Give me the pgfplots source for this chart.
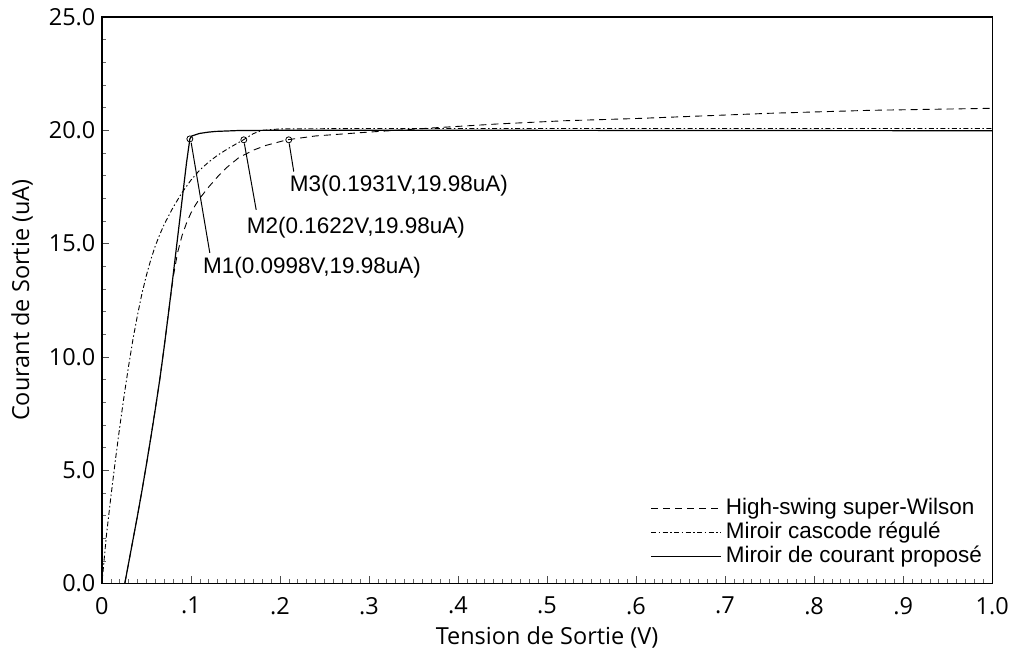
\documentclass[border=0pt]{standalone}
\usepackage{fontspec}
\setmainfont{Open Sans}
\newfontfamily\arial{Liberation Sans}
\usepackage{pgfplots}
\pgfplotsset{compat=1.18}

\begin{document}
\begin{tikzpicture}
\begin{axis}[
 scale only axis,width=891pt,height=567pt,
 xmin=0,xmax=1,ymin=0,ymax=25,
 xtick={0,0.1,0.2,0.3,0.4,0.5,0.6,0.7,0.8,0.9,1.0},
 xticklabels={0,.1,.2,.3,.4,.5,.6,.7,.8,.9,1.0},
 ytick={0,5,10,15,20,25},
 yticklabels={0.0,5.0,10.0,15.0,20.0,25.0},
 minor x tick num=9,minor y tick num=4,
 tick align=inside,xtick pos=bottom,ytick pos=left,
 major tick length=7pt,minor tick length=4pt,
 major tick style={line width=0.7pt,black!70},
 minor tick style={line width=0.6pt,black!60},
 axis line style={line width=1.2pt},
 tick label style={font=\fontsize{23.5}{23.5}\selectfont},
 xticklabel style={yshift=-10pt},
 yticklabel style={xshift=-3pt},
 xlabel={Tension de Sortie (V)},ylabel={Courant de Sortie (uA)},
 label style={font=\fontsize{23.5}{23.5}\selectfont},
 xlabel style={at={([yshift=-54pt]rel axis cs:0.5,0)},anchor=center},
 ylabel style={at={([xshift=-80pt]rel axis cs:0,0.5)},anchor=center},
 legend style={draw=none,fill=none,at={(rel axis cs:1,0)},anchor=south east,
   xshift=-9pt,yshift=15pt,inner sep=0pt,column sep=3pt,
   font=\arial\fontsize{22.5}{22.5}\selectfont,
   nodes={text height=17pt,text depth=5pt,inner sep=1pt}},
 legend cell align=left,
 legend image code/.code={\draw[#1] (0pt,0pt) -- (70pt,0pt);},
]
% High-swing super-Wilson
\addplot[black,line width=0.9pt,dash pattern=on 7pt off 5pt] coordinates {
 (0.0257,0) (0.03,0.9) (0.035,1.95) (0.04,3.0) (0.045,4.1) (0.05,5.25)
 (0.055,6.45) (0.06,7.7) (0.065,9.0) (0.07,10.45) (0.075,12.0) (0.08,13.5)
 (0.085,14.6) (0.09,15.35) (0.095,15.9) (0.1,16.35) (0.105,16.7) (0.11,17.0)
 (0.12,17.5) (0.13,17.95) (0.14,18.35) (0.154,18.8) (0.17,19.12) (0.184,19.33)
 (0.208,19.58) (0.24,19.75) (0.296,19.91) (0.37,20.1) (0.445,20.28) (0.519,20.42)
 (0.601,20.52) (0.75,20.75) (0.862,20.88) (1.0,20.97)};
\addlegendentry{High-swing super-Wilson}
% Miroir cascode regule
\addplot[black,line width=0.9pt,dash pattern=on 5pt off 2.5pt on 1.5pt off 2.5pt] coordinates {
 (0,0) (0.005,2.1) (0.01,3.8) (0.015,5.4) (0.02,6.9) (0.025,8.3) (0.03,9.6)
 (0.035,10.8) (0.04,11.85) (0.045,12.8) (0.05,13.6) (0.055,14.3) (0.06,14.9)
 (0.065,15.4) (0.07,15.85) (0.08,16.6) (0.09,17.25) (0.1,17.8) (0.11,18.25)
 (0.12,18.6) (0.13,18.9) (0.14,19.15) (0.15,19.38) (0.159,19.58) (0.17,19.85)
 (0.18,20.0) (0.2,20.06) (0.3,20.08) (0.6,20.08) (1.0,20.08)};
\addlegendentry{Miroir cascode régulé}
% Miroir de courant propose
\addplot[black,line width=1.2pt] coordinates {
 (0.0257,0) (0.03,0.9) (0.035,1.95) (0.04,3.0) (0.045,4.1) (0.05,5.25)
 (0.055,6.45) (0.06,7.7) (0.065,9.0) (0.07,10.45) (0.075,12.0) (0.08,13.6)
 (0.085,15.25) (0.09,16.9) (0.095,18.55) (0.0988,19.62) (0.101,19.75) (0.1095,19.86)
 (0.12,19.92) (0.128,19.95) (0.154,19.99) (0.2,20.0) (0.4,20.0) (0.7,19.99) (1.0,19.98)};
\addlegendentry{Miroir de courant proposé}
% markers
\addplot[forget plot,only marks,mark=o,mark size=3pt,mark options={line width=0.8pt}] coordinates {
 (0.0988,19.62) (0.1594,19.58) (0.2099,19.58)};
\addplot[forget plot,black,line width=1pt] coordinates {(0.1003,19.45) (0.1212,14.59)};
\addplot[forget plot,black,line width=1pt] coordinates {(0.1600,19.42) (0.1733,16.49)};
\addplot[forget plot,black,line width=1pt] coordinates {(0.2104,19.42) (0.2155,18.18)};
\node[anchor=west,inner sep=0pt,font=\arial\fontsize{22.5}{22.5}\selectfont] at (axis cs:0.1134,13.93) {M1(0.0998V,19.98uA)};
\node[anchor=west,inner sep=0pt,font=\arial\fontsize{22.5}{22.5}\selectfont] at (axis cs:0.1627,15.70) {M2(0.1622V,19.98uA)};
\node[anchor=west,inner sep=0pt,font=\arial\fontsize{22.5}{22.5}\selectfont] at (axis cs:0.211,17.55) {M3(0.1931V,19.98uA)};
\end{axis}
\path[use as bounding box] (-102pt,-69pt) rectangle (910pt,584pt);
\end{tikzpicture}
\end{document}
